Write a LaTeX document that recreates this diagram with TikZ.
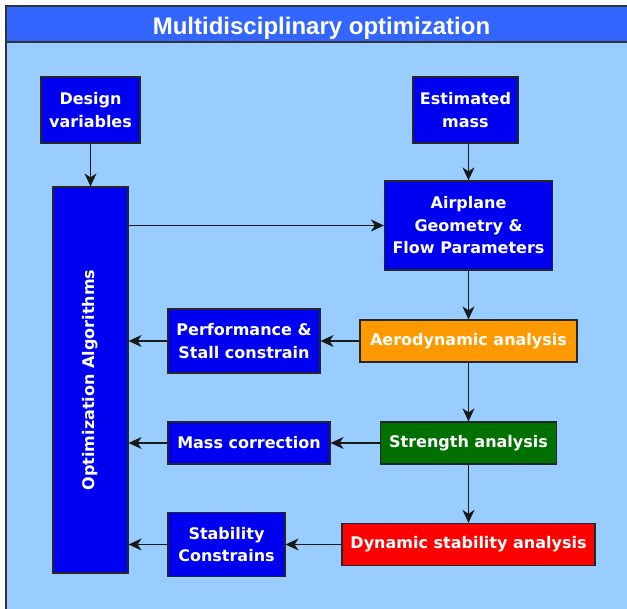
\documentclass[tikz,border=0pt]{standalone}
\usepackage{fontspec}
\setmainfont{DejaVu Sans}
\newfontfamily\titlefont{Liberation Sans}
\usetikzlibrary{arrows.meta}
\definecolor{framebg}{HTML}{99CCFF}
\definecolor{titlebar}{HTML}{3366FF}
\definecolor{boxblue}{HTML}{0000F0}
\definecolor{aeroorange}{HTML}{FF9900}
\definecolor{strgreen}{HTML}{007000}
\definecolor{dynred}{HTML}{FF0000}
\tikzset{
  box/.style={draw=black!85, line width=1.2pt, fill=boxblue, text=white,
    align=center, inner sep=0pt, font=\fontsize{16}{22.5}\selectfont\bfseries},
  flow/.style={-{Stealth[length=13pt,width=12pt,inset=4pt]}, line width=1.1pt, draw=black!90}
}
\begin{document}
\begin{tikzpicture}[x=1pt,y=-1pt]
\useasboundingbox (0,0) rectangle (627,609);

%%% FRAME %%%
\begin{scope}
\clip (0,0) rectangle (627,609);
\fill[white] (0,0) rectangle (627,609);
\draw[line width=1.5pt, draw=black!80, fill=framebg] (6,6) rectangle (637,620);
\draw[line width=1.5pt, draw=black!80, fill=titlebar] (6,6) rectangle (637,42);
\end{scope}
\node[font=\titlefont\fontsize{24}{24}\selectfont\bfseries, text=white, anchor=base] (title) at (321.5,34.5) {Multidisciplinary optimization};

%%% BOXES %%%
\node[box, minimum width=99pt, minimum height=66pt] (dv) at (90.5,110) {Design\\variables};
\node[box, minimum width=105pt, minimum height=66pt] (em) at (465.5,110) {Estimated\\mass};
\node[box, minimum width=75pt, minimum height=386pt] (opt) at (90.5,380) {\rotatebox{90}{Optimization Algorithms}};
\node[box, minimum width=168pt, minimum height=89pt] (geo) at (468.5,225.5) {Airplane\\Geometry \&\\Flow Parameters};
\node[box, fill=aeroorange, minimum width=217pt, minimum height=42pt] (aero) at (468.5,341) {Aerodynamic analysis};
\node[box, minimum width=152pt, minimum height=64pt] (perf) at (244,341) {Performance \&\\Stall constrain};
\node[box, fill=strgreen, minimum width=176pt, minimum height=42pt] (str) at (468.5,443) {Strength analysis};
\node[box, minimum width=162pt, minimum height=42pt] (mc) at (249,443) {Mass correction};
\node[box, fill=dynred, minimum width=253pt, minimum height=42pt] (dyn) at (468.5,544.5) {Dynamic stability analysis};
\node[box, minimum width=117pt, minimum height=64pt] (stab) at (226.5,544.5) {Stability\\Constrains};

%%% ARROWS %%%
% inputs
\draw[flow] (dv) -- (opt);
\draw[flow] (em.south -| geo.north) -- (geo.north);
\draw[flow] (opt.east |- geo.west) -- (geo.west);
% analysis chain
\draw[flow] (geo) -- (aero);
\draw[flow] (aero) -- (str);
\draw[flow] (str) -- (dyn);
% back to the optimizer
\draw[flow] (aero) -- (perf);
\draw[flow] (perf.west) -- (perf.west -| opt.east);
\draw[flow] (str) -- (mc);
\draw[flow] (mc.west) -- (mc.west -| opt.east);
\draw[flow] (dyn) -- (stab);
\draw[flow] (stab.west) -- (stab.west -| opt.east);
\end{tikzpicture}
\end{document}
